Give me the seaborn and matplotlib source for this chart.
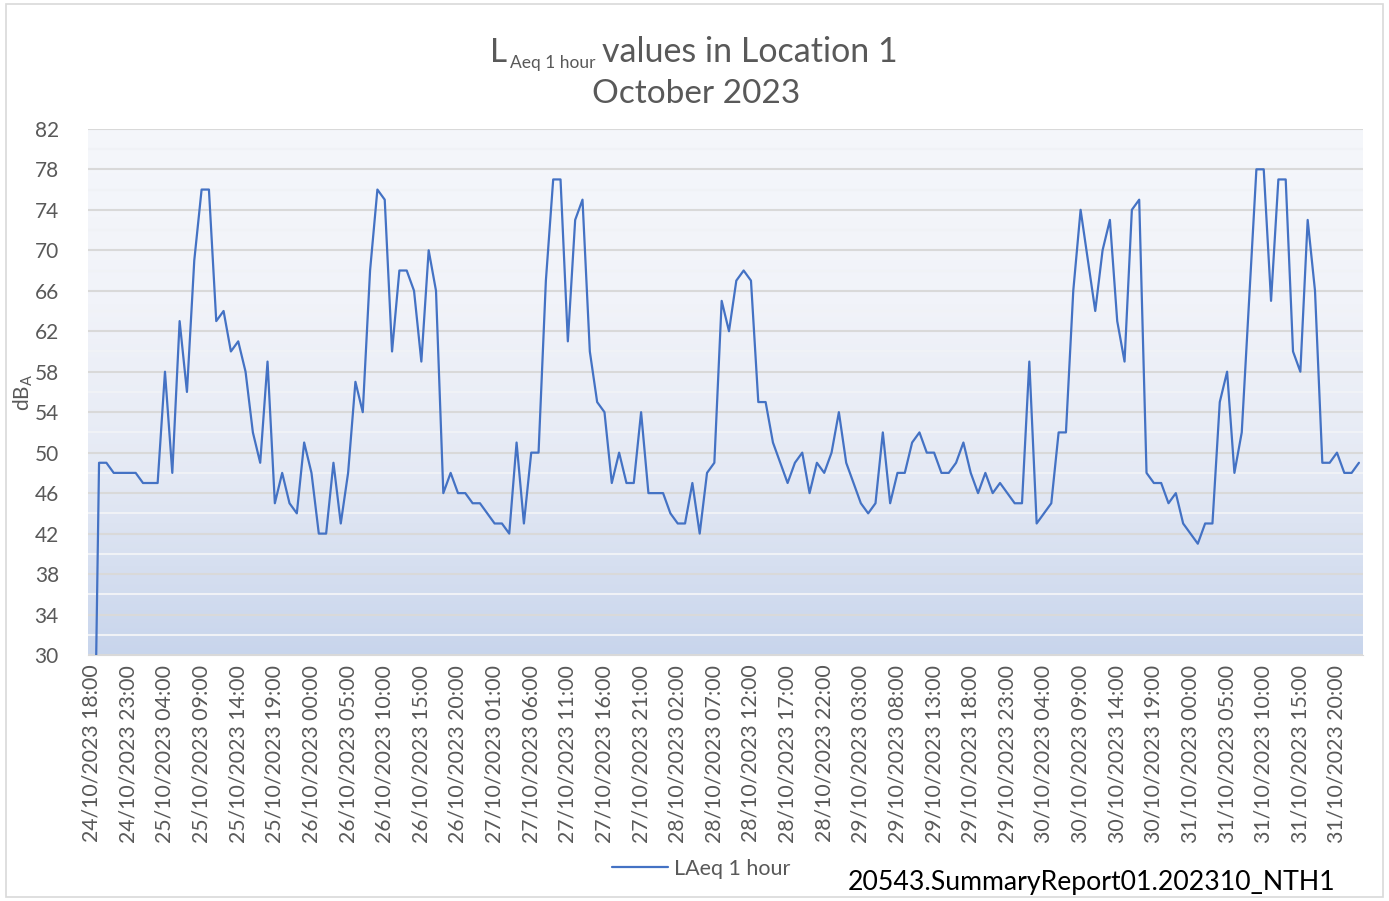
import numpy as np
import pandas as pd
import matplotlib
matplotlib.use("Agg")
import matplotlib.pyplot as plt
from matplotlib.colors import LinearSegmentedColormap
from matplotlib.patches import Rectangle
import seaborn as sns

# hourly LAeq values, 24/10/2023 18:00 .. 31/10/2023 23:00
laeq = [
    0, 49, 49, 48, 48, 48, 48, 47, 47, 47,
    58, 48, 63, 56, 69, 76, 76, 63, 64, 60,
    61, 58, 52, 49, 59, 45, 48, 45, 44, 51,
    48, 42, 42, 49, 43, 48, 57, 54, 68, 76,
    75, 60, 68, 68, 66, 59, 70, 66, 46, 48,
    46, 46, 45, 45, 44, 43, 43, 42, 51, 43,
    50, 50, 67, 77, 77, 61, 73, 75, 60, 55,
    54, 47, 50, 47, 47, 54, 46, 46, 46, 44,
    43, 43, 47, 42, 48, 49, 65, 62, 67, 68,
    67, 55, 55, 51, 49, 47, 49, 50, 46, 49,
    48, 50, 54, 49, 47, 45, 44, 45, 52, 45,
    48, 48, 51, 52, 50, 50, 48, 48, 49, 51,
    48, 46, 48, 46, 47, 46, 45, 45, 59, 43,
    44, 45, 52, 52, 66, 74, 69, 64, 70, 73,
    63, 59, 74, 75, 48, 47, 47, 45, 46, 43,
    42, 41, 43, 43, 55, 58, 48, 52, 65, 78,
    78, 65, 77, 77, 60, 58, 73, 66, 49, 49,
    50, 48, 48, 49,
]
start_time = "2023-10-24 18:00"
tick_step = 5
y_ticks = list(range(30, 83, 4))

times = pd.date_range(start_time, periods=len(laeq), freq="h")
df = pd.DataFrame({"idx": np.arange(len(laeq)), "laeq": laeq})

sns.set_style("white")
plt.rcParams["font.family"] = ["Lato", "DejaVu Sans"]
plt.rcParams["mathtext.fontset"] = "custom"
plt.rcParams["mathtext.rm"] = "Lato"

txt = "#595959"
fig = plt.figure(figsize=(13.89, 9.01), dpi=100)
ax = fig.add_axes([0.0634, 0.273, 0.9176, 0.584])

n = len(laeq)
# background gradient
cmap = LinearSegmentedColormap.from_list("bg", ["#c8d5ec", "#e4e9f4", "#f1f3f9", "#f5f7fb"])
grad = np.linspace(0, 1, 256).reshape(-1, 1)
ax.imshow(grad, cmap=cmap, aspect="auto", origin="lower",
          extent=[-0.5, n - 0.5, 30, 82], zorder=0)

for v in range(32, 82, 4):
    ax.axhline(v, color="#f0f2f6", lw=1.5, zorder=1)
for v in y_ticks:
    ax.axhline(v, color="#d9d9d9", lw=1.5, zorder=1)

sns.lineplot(data=df, x="idx", y="laeq", ax=ax, color="#4472c4", lw=1.6,
             label="LAeq 1 hour", legend=False, zorder=3)

ax.set_xlim(-0.5, n - 0.5)
ax.set_ylim(30, 82)
ax.set_yticks(y_ticks)
ax.set_yticklabels([str(v) for v in y_ticks], fontsize=15, color=txt)
pos = np.arange(0, n, tick_step)
ax.set_xticks(pos)
ax.set_xticklabels([times[i].strftime("%d/%m/%Y %H:%M") for i in pos],
                   rotation=90, fontsize=15.3, color=txt)
ax.set_xticks(np.arange(n + 1) - 0.5, minor=True)
ax.tick_params(axis="x", which="major", length=0, pad=7)
ax.tick_params(axis="x", which="minor", length=5, color="#bfbfbf", width=1)
ax.tick_params(axis="y", length=0, pad=21)
ax.set_xlabel("")
ax.set_ylabel(r"dB$_{\mathrm{A}}$", fontsize=15, color=txt, labelpad=0)
for s in ["top", "right", "left"]:
    ax.spines[s].set_visible(False)
ax.spines["bottom"].set_color("#d9d9d9")

# title: L + small subscript + main text
fig.text(0.3530, 0.931, "L", ha="left", va="baseline", fontsize=24, color=txt)
fig.text(0.3675, 0.924, "Aeq 1 hour", ha="left", va="baseline", fontsize=12.5, color=txt)
fig.text(0.4335, 0.931, "values in Location 1", ha="left", va="baseline",
         fontsize=24.5, color=txt)
fig.text(0.501, 0.896, "October 2023", ha="center", va="center", fontsize=24, color=txt)

handles, labels = ax.get_legend_handles_labels()
fig.legend(handles, labels, loc="center", bbox_to_anchor=(0.505, 0.036),
           frameon=False, fontsize=15.5, labelcolor=txt, handlelength=2.6,
           handletextpad=0.3)
fig.text(0.7856, 0.021, "20543.SummaryReport01.202310_NTH1", ha="center",
         va="center", fontsize=19.2, color="black")

fig.patches.append(Rectangle((0.004, 0.004), 0.992, 0.992, transform=fig.transFigure,
                             fill=False, edgecolor="#d9d9d9", lw=1.2))

fig.savefig("out.png", dpi=100)
